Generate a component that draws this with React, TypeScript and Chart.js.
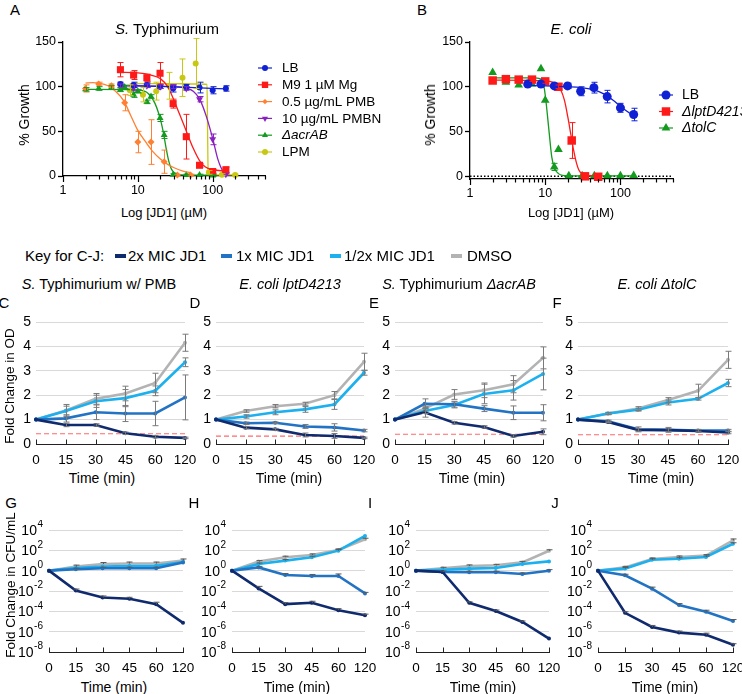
import React, { useEffect, useRef } from 'react';
import { Chart, registerables } from 'chart.js';

Chart.register(...registerables);

const FONT = '"Liberation Sans", Arial, Helvetica, sans-serif';
Chart.defaults.font.family = FONT;
Chart.defaults.color = '#000';

// ================= Panel A : S. Typhimurium dose response =================
const A_LB_X = [5.85, 8.78, 13.2, 19.8, 29.6, 44.4, 66.7, 100, 150];
const A_LB_Y = [103, 102, 102, 100, 98, 99.5, 99, 96, 98];
const A_LB_E = [2, 3, 3, 2, 4, 3, 6, 4, 3];
const A_LB_FIT_X = [5.85, 40, 150];
const A_LB_FIT_Y = [101.5, 99.5, 97.5];

const A_M9_X = [5.85, 8.78, 13.2, 19.8, 29.6, 44.4, 66.7, 100, 150];
const A_M9_Y = [119, 113, 110, 115, 81, 44, 12, 5, 7];
const A_M9_E = [8, 5, 4, 12, 5, 25, 2, 2, 3];
const A_M9_FIT_X = [5.85, 10, 15, 20, 25, 30, 35, 40, 45, 55, 67, 80, 100, 150];
const A_M9_FIT_Y = [116, 115.5, 113, 109, 100, 86, 72, 60, 49, 31, 17, 10, 7, 5.5];

const A_PMB_X = [2, 3, 4.44, 6.67, 10, 15, 22.5, 33.75, 50.6];
const A_PMB_Y = [98, 103, 101, 82, 38, 38, 16, 1, 1];
const A_PMB_E = [4, 2, 2, 9, 12, 25, 13, 1, 1];
const A_PMB_FIT_X = [2, 2.5, 3, 4, 5, 6.5, 8, 10, 13, 16, 20, 25, 30, 40, 50];
const A_PMB_FIT_Y = [104, 104.5, 104, 101, 95, 84, 68, 51, 37, 27, 19, 13, 9.5, 5.5, 4];

const A_PMBN_X = [5.85, 8.78, 13.2, 19.8, 29.6, 44.4, 66.7, 100, 150];
const A_PMBN_Y = [101, 99, 101, 100, 100, 98, 86, 41, 2];
const A_PMBN_E = [2, 3, 2, 2, 2, 2, 3, 6, 1];
const A_PMBN_FIT_X = [5.85, 20, 40, 55, 67, 82, 100, 118, 138, 150];
const A_PMBN_FIT_Y = [101, 100.5, 99, 95, 86, 67, 42, 18, 5, 3];

const A_ACR_X = [2, 3, 4.44, 5.85, 6.67, 8.78, 10, 13.2, 15, 19.8, 22.5, 29.6, 44.4, 66.7, 100];
const A_ACR_Y = [97, 98, 99, 96.5, 99.5, 91, 95, 83, 89, 65, 46, 1.5, 1, 1, 0.5];
const A_ACR_E = [2, 2, 2, 2, 2, 3, 2, 2, 2, 4, 4, 1, 1, 1, 1];
const A_ACR_FIT_X = [2, 8, 11, 13, 15, 17, 19, 20.5, 22, 24, 26, 28, 31, 35, 45, 100];
const A_ACR_FIT_Y = [97, 96.8, 96, 94, 89, 81, 70, 60, 48, 30, 16, 8, 3.5, 1.5, 1, 1];

const A_LPM_X = [7.8, 11.7, 17.6, 26.3, 39.5, 59.3, 88.9, 133, 200];
const A_LPM_Y = [96, 91, 95, 101, 110, 126, 4, 1.5, 1];
const A_LPM_E = [6, 8, 10, 15, 21, 28, 2, 1, 1];
const A_LPM_FIT_X = [7.8, 30, 60, 84, 85.5, 87, 90, 110, 200];
const A_LPM_FIT_Y = [103.5, 103.5, 103, 102.5, 50, 4, 1.5, 1.2, 1.2];

const A_LABELS = ['LB', 'M9 1 µM Mg', '0.5 µg/mL PMB', '10 µg/mL PMBN', 'ΔacrAB', 'LPM'];

// ================= Panel B : E. coli dose response =================
const B_LB_X = [5.85, 8.78, 13.2, 19.8, 29.6, 44.4, 66.7, 100, 150];
const B_LB_Y = [103, 103, 101, 101, 95, 99, 89, 76.5, 69];
const B_LB_E = [2, 2, 2, 3, 5, 6, 7, 5, 7];
const B_LB_FIT_X = [5.85, 10, 20, 30, 45, 60, 80, 100, 125, 150];
const B_LB_FIT_Y = [101.5, 101, 100, 99, 96.5, 92, 85, 78, 72, 67.5];

const B_LPT_X = [2, 3, 4.44, 6.67, 10, 15, 22.5, 33.75, 50.6];
const B_LPT_Y = [107, 108.5, 108, 108, 106, 100, 40, 0, -0.5];
const B_LPT_E = [2, 2, 2, 2, 2, 2, 20, 1, 1];
const B_LPT_FIT_X = [2, 10, 14, 16, 18, 20, 22, 24, 26, 28, 31, 35, 50.6];
const B_LPT_FIT_Y = [107.5, 106.5, 103, 97, 85, 66, 46, 28, 15, 7, 2.5, 1, 0.5];

const B_TOL_X = [2, 3, 4.44, 6.67, 8.78, 10, 13.2, 15, 20.6, 31, 45, 67, 100, 150];
const B_TOL_Y = [116, 105, 102, 103, 120, 85, 10.5, 30, 0.5, 0.5, 0.5, 0.5, 0.5, 0.8];
const B_TOL_E = [0, 0, 0, 0, 0, 0, 4, 0, 0, 0, 0, 0, 0, 0];
const B_TOL_FIT_X = [2, 7, 8.5, 9.5, 10.1, 11.1, 12.2, 13.3, 15, 17, 25, 150];
const B_TOL_FIT_Y = [110, 110, 109, 103, 88, 55, 22, 9, 3, 1, 0.5, 0.5];

const B_ZERO_X = [1, 500];
const B_ZERO_Y = [0, 0];

const B_LABELS = ['LB', 'ΔlptD4213', 'ΔtolC'];

// ================= Axis ticks =================
const LOG_X_TICKS = [1, 2, 3, 4, 5, 6, 7, 8, 9, 10, 20, 30, 40, 50, 60, 70, 80, 90, 100, 200, 300, 400, 500];
const LOG_X_LABELLED = [1, 10, 100];
const GROWTH_TICKS = [0, 50, 100, 150];
const TIME_LABELS = ['0', '15', '30', '45', '60', '120'];
const CFU_TICKS = [1e-8, 1e-6, 1e-4, 1e-2, 1, 1e2, 1e4];
const CFU_TICK_BASE = '10';
const CFU_TICK_EXP = ['-8', '-6', '-4', '-2', '0', '2', '4'];

// ================= Panels C-F : fold change in OD =================
const C_2X = [1, 0.78, 0.78, 0.44, 0.3, 0.25];
const C_2X_E = [0, 0.07, 0.05, 0.05, 0.05, 0.03];
const C_1X = [1, 1.05, 1.3, 1.25, 1.25, 1.91];
const C_1X_E = [0, 0.15, 0.3, 0.33, 0.5, 0.92];
const C_HALF = [1, 1.35, 1.75, 1.88, 2.18, 3.35];
const C_HALF_E = [0, 0.2, 0.25, 0.35, 0.2, 0.18];
const C_DMSO = [1, 1.37, 1.85, 2.07, 2.5, 4.15];
const C_DMSO_E = [0, 0.25, 0.22, 0.3, 0.4, 0.35];
const C_LIMIT = 0.42;

const D_2X = [1, 0.67, 0.6, 0.37, 0.33, 0.25];
const D_2X_E = [0, 0.05, 0.04, 0.08, 0.1, 0.03];
const D_1X = [1, 0.85, 0.87, 0.72, 0.68, 0.55];
const D_1X_E = [0, 0.05, 0.03, 0.08, 0.15, 0.05];
const D_HALF = [1, 1.13, 1.3, 1.42, 1.62, 2.92];
const D_HALF_E = [0, 0.07, 0.1, 0.12, 0.2, 0.1];
const D_DMSO = [1, 1.35, 1.55, 1.65, 2.0, 3.37];
const D_DMSO_E = [0, 0.05, 0.07, 0.06, 0.15, 0.35];
const D_LIMIT = 0.32;

const E_2X = [1, 1.3, 0.87, 0.7, 0.33, 0.5];
const E_2X_E = [0, 0.2, 0.05, 0.05, 0.05, 0.12];
const E_1X = [1, 1.65, 1.63, 1.45, 1.28, 1.28];
const E_1X_E = [0, 0.2, 0.12, 0.12, 0.28, 0.33];
const E_HALF = [1, 1.35, 1.6, 2.05, 2.2, 2.87];
const E_HALF_E = [0, 0.1, 0.12, 0.4, 0.4, 0.65];
const E_DMSO = [1, 1.45, 2.03, 2.2, 2.45, 3.53];
const E_DMSO_E = [0, 0.1, 0.2, 0.3, 0.35, 0.45];
const E_LIMIT = 0.4;

const F_2X = [1, 0.9, 0.58, 0.57, 0.53, 0.47];
const F_2X_E = [0, 0.03, 0.05, 0.05, 0.05, 0.05];
const F_1X = [1, 0.93, 0.6, 0.58, 0.55, 0.55];
const F_1X_E = [0, 0.05, 0.1, 0.1, 0.05, 0.05];
const F_HALF = [1, 1.25, 1.4, 1.7, 1.85, 2.5];
const F_HALF_E = [0, 0.05, 0.05, 0.1, 0.05, 0.15];
const F_DMSO = [1, 1.25, 1.45, 1.8, 2.18, 3.45];
const F_DMSO_E = [0, 0.04, 0.08, 0.1, 0.27, 0.35];
const F_LIMIT = 0.38;

// ================= Panels G-J : fold change in CFU/mL (errors in log decades) =================
const G_2X = [1, 1.1e-2, 2.3e-3, 1.7e-3, 5e-4, 7.4e-6];
const G_2X_E = [0, 0.15, 0.15, 0.15, 0.2, 0];
const G_1X = [1, 1.4, 1.7, 1.7, 1.7, 6.5];
const G_1X_E = [0, 0.1, 0.1, 0.1, 0.1, 0];
const G_HALF = [1, 1.8, 2.5, 2.8, 3, 7];
const G_HALF_E = [0, 0, 0, 0, 0, 0];
const G_DMSO = [1, 2.5, 4.5, 5, 5, 10];
const G_DMSO_E = [0, 0.15, 0.15, 0.15, 0.15, 0.15];

const H_2X = [1, 0.018, 5.1e-4, 6.9e-4, 1.3e-4, 4.2e-5];
const H_2X_E = [0, 0.2, 0.15, 0.15, 0.15, 0.1];
const H_1X = [1, 2.1, 0.37, 0.3, 0.3, 5.8e-3];
const H_1X_E = [0, 0.1, 0.15, 0.15, 0.2, 0.1];
const H_HALF = [1, 4.5, 9.8, 21, 93, 2600];
const H_HALF_E = [0, 0.1, 0.1, 0.1, 0.1, 0];
const H_DMSO = [1, 7.8, 21, 35, 110, 1230];
const H_DMSO_E = [0, 0.1, 0.1, 0.1, 0.1, 0.1];

const I_2X = [1, 0.74, 6.9e-4, 1.07e-4, 8.9e-6, 2.1e-7];
const I_2X_E = [0, 0, 0.1, 0.1, 0.1, 0];
const I_1X = [1, 0.74, 0.69, 0.69, 0.47, 1];
const I_1X_E = [0, 0.1, 0.1, 0.1, 0.1, 0.1];
const I_HALF = [1, 1.2, 1.6, 1.8, 4.5, 8.2];
const I_HALF_E = [0, 0, 0, 0, 0, 0];
const I_DMSO = [1, 1.7, 2.9, 3.3, 6.5, 90];
const I_DMSO_E = [0, 0.1, 0.1, 0.1, 0.1, 0.1];

const J_2X = [1, 7.2e-5, 2.9e-6, 8.1e-7, 5e-7, 5.2e-8];
const J_2X_E = [0, 0.1, 0.15, 0.15, 0.15, 0.1];
const J_1X = [1, 0.35, 0.017, 4.1e-4, 9.1e-5, 1.1e-5];
const J_1X_E = [0, 0.1, 0.15, 0.15, 0.15, 0.15];
const J_HALF = [1, 1.6, 11.7, 15, 22, 440];
const J_HALF_E = [0, 0.1, 0.1, 0.1, 0.1, 0.1];
const J_DMSO = [1, 2.1, 14, 22, 30, 930];
const J_DMSO_E = [0, 0.1, 0.1, 0.1, 0.1, 0.15];

// ================= Colours / key =================
const NAVY = '#102a6e';
const MID = '#2273c4';
const LIGHT = '#1cb0ee';
const GRAY = '#b3b3b3';
const KEY_LABELS = ['2x MIC JD1', '1x MIC JD1', '1/2x MIC JD1', 'DMSO'];
const KEY_COLORS = [NAVY, MID, LIGHT, GRAY];

const COL_LB = '#1020d4';
const COL_RED = '#ff1a1a';
const COL_ORANGE = '#ff8030';
const COL_PURPLE = '#8a20c0';
const COL_GREEN = '#139a1f';
const COL_YELLOW = '#c8c814';

// ================= helpers =================
type Area = { l: number; t: number; r: number; b: number };
type Geom = { x: number; y: number; w: number; h: number; yW: number; xH: number; pt: number; pr: number };

function geom(a: Area, yW: number, xH: number, pt: number, pr: number): Geom {
  return { x: a.l - yW, y: a.t - pt, w: a.r - a.l + yW + pr, h: a.b - a.t + pt + xH, yW, xH, pt, pr };
}
const fixY = (w: number) => (s: any) => {
  s.width = w; s.paddingTop = 0; s.paddingBottom = 0; s.paddingLeft = 0; s.paddingRight = 0;
};
const fixX = (h: number) => (s: any) => {
  s.height = h; s.paddingLeft = 0; s.paddingRight = 0; s.paddingTop = 0; s.paddingBottom = 0;
};
const pts = (xs: number[], ys: number[]) => xs.map((x, i) => ({ x, y: ys[i] }));

const errorBars = {
  id: 'errorBars',
  afterDatasetsDraw(chart: any) {
    const { ctx, chartArea } = chart;
    chart.data.datasets.forEach((ds: any, i: number) => {
      if (!ds.err) return;
      const meta = chart.getDatasetMeta(i);
      const ys = chart.scales[meta.yAxisID];
      ctx.save();
      ctx.beginPath();
      ctx.rect(chartArea.left - 10, chartArea.top - 4, chartArea.right - chartArea.left + 20, chartArea.bottom - chartArea.top + 8);
      ctx.clip();
      ctx.strokeStyle = ds.errColor || ds.borderColor;
      ctx.lineWidth = ds.errWidth || 1;
      const cap = ds.errCap ?? 3;
      meta.data.forEach((el: any, j: number) => {
        const e = ds.err[j];
        if (!e) return;
        const raw = ds.data[j];
        const v = typeof raw === 'number' ? raw : raw.y;
        let hi: number, lo: number;
        if (ds.errLog) { hi = v * Math.pow(10, e); lo = ds.errUpOnly ? v : v / Math.pow(10, e); }
        else { hi = v + e; lo = ds.errUpOnly ? v : v - e; }
        const x = Math.round(el.x) + 0.5;
        const yh = ys.getPixelForValue(hi);
        const yl = ys.getPixelForValue(lo);
        ctx.beginPath();
        ctx.moveTo(x, yh); ctx.lineTo(x, yl);
        ctx.moveTo(x - cap, yh); ctx.lineTo(x + cap, yh);
        if (!ds.errUpOnly) { ctx.moveTo(x - cap, yl); ctx.lineTo(x + cap, yl); }
        ctx.stroke();
      });
      ctx.restore();
    });
  },
};
Chart.register(errorBars);

const logTickMarks = {
  id: 'logTickMarks',
  afterDraw(chart: any) {
    const s = chart.scales.x;
    const ctx = chart.ctx;
    const b = chart.chartArea.bottom;
    ctx.save();
    ctx.strokeStyle = '#000';
    ctx.lineWidth = 1.2;
    s.ticks.forEach((t: any) => {
      const lg = Math.log10(t.value);
      const major = Math.abs(lg - Math.round(lg)) < 1e-9;
      const x = Math.round(s.getPixelForValue(t.value)) + 0.5;
      ctx.beginPath();
      ctx.moveTo(x, b);
      ctx.lineTo(x, b + (major ? 6 : 3.5));
      ctx.stroke();
    });
    ctx.restore();
  },
};

const upTicks = {
  id: 'upTicks',
  afterDraw(chart: any) {
    const s = chart.scales.x;
    const ctx = chart.ctx;
    const b = chart.chartArea.bottom;
    ctx.save();
    ctx.strokeStyle = '#222';
    ctx.lineWidth = 1;
    for (let i = 0; i < s.ticks.length; i++) {
      const x = Math.round(s.getPixelForTick(i)) + 0.5;
      ctx.beginPath();
      ctx.moveTo(x, b);
      ctx.lineTo(x, b - 4.5);
      ctx.stroke();
    }
    ctx.restore();
  },
};

// power-of-ten labels for the CFU axes: "10" with a raised exponent
const powerLabels = {
  id: 'powerLabels',
  afterDraw(chart: any) {
    const s = chart.scales.y;
    const ctx = chart.ctx;
    const right = chart.chartArea.left - 6;
    ctx.save();
    ctx.fillStyle = '#000';
    ctx.textBaseline = 'middle';
    s.ticks.forEach((t: any, i: number) => {
      const y = s.getPixelForValue(t.value);
      ctx.font = `10px ${FONT}`;
      const ew = ctx.measureText(CFU_TICK_EXP[i]).width;
      ctx.textAlign = 'left';
      ctx.fillText(CFU_TICK_EXP[i], right - ew, y - 5.5);
      ctx.font = `14px ${FONT}`;
      ctx.textAlign = 'right';
      ctx.fillText(CFU_TICK_BASE, right - ew - 0.5, y + 1);
    });
    ctx.restore();
  },
};

function drawMarker(ctx: any, style: string, x: number, y: number, r: number, rot: number) {
  ctx.beginPath();
  if (style === 'circle') ctx.arc(x, y, r, 0, Math.PI * 2);
  else if (style === 'rect') { const s = r * Math.SQRT1_2; ctx.rect(x - s, y - s, 2 * s, 2 * s); }
  else if (style === 'rectRot') { const s = r * 0.9; ctx.moveTo(x, y - s); ctx.lineTo(x + s, y); ctx.lineTo(x, y + s); ctx.lineTo(x - s, y); ctx.closePath(); }
  else {
    let a = (rot * Math.PI) / 180;
    for (let k = 0; k < 3; k++) {
      const px = x + Math.sin(a) * r; const py = y - Math.cos(a) * r;
      if (k) ctx.lineTo(px, py); else ctx.moveTo(px, py);
      a += (2 * Math.PI) / 3;
    }
    ctx.closePath();
  }
  ctx.fill();
}

function legendPlugin(items: any[], o: any) {
  return {
    id: 'customLegend',
    afterDraw(chart: any) {
      const ctx = chart.ctx;
      ctx.save();
      items.forEach((it, k) => {
        const y = o.y0 + k * o.dy;
        ctx.strokeStyle = it.color;
        ctx.lineWidth = 1.2;
        ctx.beginPath(); ctx.moveTo(o.x - o.half, y); ctx.lineTo(o.x + o.half, y); ctx.stroke();
        ctx.fillStyle = it.color;
        drawMarker(ctx, it.style, o.x, y, it.lr, it.rot || 0);
        ctx.fillStyle = '#000';
        ctx.font = `${it.italic ? 'italic ' : ''}${o.size}px ${FONT}`;
        ctx.textBaseline = 'middle';
        ctx.textAlign = 'left';
        ctx.fillText(it.label, o.tx, y + 0.5);
      });
      ctx.restore();
    },
  };
}

const baseOpts = (g: Geom) => ({
  responsive: false,
  animation: false,
  events: [],
  layout: { padding: { left: 0, top: g.pt, right: g.pr, bottom: 0 } },
  plugins: { legend: { display: false }, tooltip: { enabled: false }, title: { display: false } },
});

type Dose = { label: string; italic?: boolean; color: string; style: string; rot?: number; r: number; lr: number; x: number[]; y: number[]; e: number[]; fx: number[]; fy: number[] };

function doseChart(g: Geom, series: Dose[], yMin: number, zero: boolean, leg: any) {
  const datasets: any[] = [];
  series.forEach((s) => {
    datasets.push({ data: pts(s.x, s.y), showLine: false, pointStyle: s.style, pointRotation: s.rot || 0, pointRadius: s.r, pointBackgroundColor: s.color, pointBorderColor: s.color, pointBorderWidth: 0, err: s.e, errColor: s.color, errCap: 3, clip: false });
    datasets.push({ data: pts(s.fx, s.fy), showLine: true, borderColor: s.color, borderWidth: 1.3, pointRadius: 0, cubicInterpolationMode: 'monotone', fill: false, clip: false });
  });
  if (zero) datasets.push({ data: pts(B_ZERO_X, B_ZERO_Y), showLine: true, borderColor: '#000', borderWidth: 1.4, borderDash: [1.5, 2], pointRadius: 0, clip: false });
  return {
    type: 'scatter',
    data: { datasets },
    options: {
      ...baseOpts(g),
      scales: {
        x: {
          type: 'logarithmic', min: 1, max: 500,
          afterBuildTicks: (s: any) => { s.ticks = LOG_X_TICKS.map((v) => ({ value: v })); },
          ticks: { autoSkip: false, maxRotation: 0, padding: 7, font: { size: 12.5 }, callback: (v: number) => (LOG_X_LABELLED.includes(v) ? String(v) : '') },
          grid: { display: true, drawOnChartArea: false, drawTicks: false },
          border: { display: true, color: '#000', width: 1.3 },
          afterFit: fixX(g.xH),
        },
        y: {
          type: 'linear', min: yMin, max: 150,
          afterBuildTicks: (s: any) => { s.ticks = GROWTH_TICKS.map((v) => ({ value: v })); },
          ticks: { padding: 2, font: { size: 12.5 } },
          grid: { drawOnChartArea: false, drawTicks: true, tickLength: 5, tickColor: '#000', tickWidth: 1.3 },
          border: { display: true, color: '#000', width: 1.3 },
          afterFit: fixY(g.yW),
        },
      },
    },
    plugins: [logTickMarks, legendPlugin(series, leg)],
  };
}

const lineDs = (data: number[], err: number[], color: string, log: boolean) => ({
  data, err, errLog: log, errUpOnly: log, errColor: log ? '#5a5a5a' : '#7a7a7a', errCap: 3,
  borderColor: color, backgroundColor: color, pointBackgroundColor: color, pointBorderColor: color,
  borderWidth: 2.6, pointRadius: 2, pointBorderWidth: 0, tension: 0, clip: false,
});

function timeX(g: Geom) {
  return {
    type: 'category', offset: false,
    ticks: { padding: 8, font: { size: 13.5 }, autoSkip: false, maxRotation: 0 },
    grid: { drawOnChartArea: false, drawTicks: false },
    border: { display: true, color: '#222', width: 1 },
    afterFit: fixX(g.xH),
  };
}

function odChart(g: Geom, d: any) {
  return {
    type: 'line',
    data: {
      labels: TIME_LABELS,
      datasets: [
        lineDs(d.s2, d.e2, NAVY, false),
        lineDs(d.s1, d.e1, MID, false),
        lineDs(d.sh, d.eh, LIGHT, false),
        lineDs(d.sd, d.ed, GRAY, false),
        { data: TIME_LABELS.map(() => d.lim), borderColor: '#ff6a6a', borderDash: [5, 3], borderWidth: 1.2, pointRadius: 0, clip: false },
      ],
    },
    options: {
      ...baseOpts(g),
      scales: {
        x: timeX(g),
        y: {
          min: 0, max: 5,
          ticks: { stepSize: 1, padding: 5, font: { size: 14 } },
          grid: { color: '#d9d9d9', drawTicks: false, lineWidth: 1 },
          border: { display: false },
          afterFit: fixY(g.yW),
        },
      },
    },
    plugins: [upTicks],
  };
}

function cfuChart(g: Geom, d: any) {
  return {
    type: 'line',
    data: {
      labels: TIME_LABELS,
      datasets: [
        lineDs(d.s2, d.e2, NAVY, true),
        lineDs(d.s1, d.e1, MID, true),
        lineDs(d.sh, d.eh, LIGHT, true),
        lineDs(d.sd, d.ed, GRAY, true),
      ],
    },
    options: {
      ...baseOpts(g),
      scales: {
        x: timeX(g),
        y: {
          type: 'logarithmic', min: 1e-8, max: 1e4,
          afterBuildTicks: (s: any) => { s.ticks = CFU_TICKS.map((v) => ({ value: v })); },
          ticks: { display: false, autoSkip: false },
          grid: { color: '#d9d9d9', drawTicks: false, lineWidth: 1 },
          border: { display: false },
          afterFit: fixY(g.yW),
        },
      },
    },
    plugins: [upTicks, powerLabels],
  };
}

// ================= geometry =================
const GA = geom({ l: 63, t: 42, r: 265, b: 176 }, 63, 24, 12, 175);
const GB = geom({ l: 470, t: 42, r: 673, b: 179 }, 45, 24, 12, 69);
const OD_T = 322, OD_B = 444, CFU_T = 530, CFU_B = 652;
const GC = geom({ l: 36, t: OD_T, r: 185, b: OD_B }, 24, 26, 8, 14);
const GD = geom({ l: 216, t: OD_T, r: 364, b: OD_B }, 24, 26, 8, 14);
const GE = geom({ l: 395, t: OD_T, r: 543, b: OD_B }, 24, 26, 8, 14);
const GF = geom({ l: 578, t: OD_T, r: 728, b: OD_B }, 24, 26, 8, 14);
const GG = geom({ l: 49, t: CFU_T, r: 183, b: CFU_B }, 42, 26, 10, 14);
const GH = geom({ l: 232, t: CFU_T, r: 365, b: CFU_B }, 42, 26, 10, 14);
const GI = geom({ l: 416, t: CFU_T, r: 549, b: CFU_B }, 42, 26, 10, 14);
const GJ = geom({ l: 598, t: CFU_T, r: 733, b: CFU_B }, 42, 26, 10, 14);

const A_SERIES: Dose[] = [
  { label: A_LABELS[0], color: COL_LB, style: 'circle', r: 3, lr: 3, x: A_LB_X, y: A_LB_Y, e: A_LB_E, fx: A_LB_FIT_X, fy: A_LB_FIT_Y },
  { label: A_LABELS[1], color: COL_RED, style: 'rect', r: 5, lr: 4.5, x: A_M9_X, y: A_M9_Y, e: A_M9_E, fx: A_M9_FIT_X, fy: A_M9_FIT_Y },
  { label: A_LABELS[2], color: COL_ORANGE, style: 'rectRot', r: 3.5, lr: 3, x: A_PMB_X, y: A_PMB_Y, e: A_PMB_E, fx: A_PMB_FIT_X, fy: A_PMB_FIT_Y },
  { label: A_LABELS[3], color: COL_PURPLE, style: 'triangle', rot: 180, r: 4, lr: 3.5, x: A_PMBN_X, y: A_PMBN_Y, e: A_PMBN_E, fx: A_PMBN_FIT_X, fy: A_PMBN_FIT_Y },
  { label: A_LABELS[4], italic: true, color: COL_GREEN, style: 'triangle', r: 4, lr: 3.5, x: A_ACR_X, y: A_ACR_Y, e: A_ACR_E, fx: A_ACR_FIT_X, fy: A_ACR_FIT_Y },
  { label: A_LABELS[5], color: COL_YELLOW, style: 'circle', r: 3, lr: 3, x: A_LPM_X, y: A_LPM_Y, e: A_LPM_E, fx: A_LPM_FIT_X, fy: A_LPM_FIT_Y },
];
const B_SERIES: Dose[] = [
  { label: B_LABELS[0], color: COL_LB, style: 'circle', r: 4.5, lr: 4.5, x: B_LB_X, y: B_LB_Y, e: B_LB_E, fx: B_LB_FIT_X, fy: B_LB_FIT_Y },
  { label: B_LABELS[1], italic: true, color: COL_RED, style: 'rect', r: 6, lr: 6, x: B_LPT_X, y: B_LPT_Y, e: B_LPT_E, fx: B_LPT_FIT_X, fy: B_LPT_FIT_Y },
  { label: B_LABELS[2], italic: true, color: COL_GREEN, style: 'triangle', r: 5, lr: 5, x: B_TOL_X, y: B_TOL_Y, e: B_TOL_E, fx: B_TOL_FIT_X, fy: B_TOL_FIT_Y },
];

const CHARTS: { g: Geom; cfg: () => any }[] = [
  { g: GA, cfg: () => doseChart(GA, A_SERIES, 0, false, { x: 265 - GA.x, half: 7, tx: 282 - GA.x, y0: 68 - GA.y, dy: 16.8, size: 13.5 }) },
  { g: GB, cfg: () => doseChart(GB, B_SERIES, -3, true, { x: 666 - GB.x, half: 7, tx: 682 - GB.x, y0: 95 - GB.y, dy: 16.5, size: 14 }) },
  { g: GC, cfg: () => odChart(GC, { s2: C_2X, e2: C_2X_E, s1: C_1X, e1: C_1X_E, sh: C_HALF, eh: C_HALF_E, sd: C_DMSO, ed: C_DMSO_E, lim: C_LIMIT }) },
  { g: GD, cfg: () => odChart(GD, { s2: D_2X, e2: D_2X_E, s1: D_1X, e1: D_1X_E, sh: D_HALF, eh: D_HALF_E, sd: D_DMSO, ed: D_DMSO_E, lim: D_LIMIT }) },
  { g: GE, cfg: () => odChart(GE, { s2: E_2X, e2: E_2X_E, s1: E_1X, e1: E_1X_E, sh: E_HALF, eh: E_HALF_E, sd: E_DMSO, ed: E_DMSO_E, lim: E_LIMIT }) },
  { g: GF, cfg: () => odChart(GF, { s2: F_2X, e2: F_2X_E, s1: F_1X, e1: F_1X_E, sh: F_HALF, eh: F_HALF_E, sd: F_DMSO, ed: F_DMSO_E, lim: F_LIMIT }) },
  { g: GG, cfg: () => cfuChart(GG, { s2: G_2X, e2: G_2X_E, s1: G_1X, e1: G_1X_E, sh: G_HALF, eh: G_HALF_E, sd: G_DMSO, ed: G_DMSO_E }) },
  { g: GH, cfg: () => cfuChart(GH, { s2: H_2X, e2: H_2X_E, s1: H_1X, e1: H_1X_E, sh: H_HALF, eh: H_HALF_E, sd: H_DMSO, ed: H_DMSO_E }) },
  { g: GI, cfg: () => cfuChart(GI, { s2: I_2X, e2: I_2X_E, s1: I_1X, e1: I_1X_E, sh: I_HALF, eh: I_HALF_E, sd: I_DMSO, ed: I_DMSO_E }) },
  { g: GJ, cfg: () => cfuChart(GJ, { s2: J_2X, e2: J_2X_E, s1: J_1X, e1: J_1X_E, sh: J_HALF, eh: J_HALF_E, sd: J_DMSO, ed: J_DMSO_E }) },
];

function ChartCanvas({ g, cfg }: { g: Geom; cfg: () => any }) {
  const ref = useRef<HTMLCanvasElement>(null);
  useEffect(() => {
    const chart = new Chart(ref.current as HTMLCanvasElement, cfg());
    return () => chart.destroy();
  }, []);
  return (
    <canvas ref={ref} width={g.w} height={g.h}
      style={{ position: 'absolute', left: g.x, top: g.y, width: g.w, height: g.h }} />
  );
}

function Txt({ x, y, size = 14, rot = false, align = 'center', italic = false, children }: any) {
  const tx = align === 'left' ? '0' : '-50%';
  return (
    <div style={{
      position: 'absolute', left: x, top: y,
      transform: `translate(${tx}, -50%)${rot ? ' rotate(-90deg)' : ''}`,
      fontSize: size, fontStyle: italic ? 'italic' : 'normal',
      whiteSpace: 'nowrap', lineHeight: 1, color: '#000',
    }}>{children}</div>
  );
}

const KEY_LINE_X = [115, 221, 330, 451];
const KEY_TEXT_X = [128, 236, 344, 467];

export default function App() {
  return (
    <div style={{ position: 'absolute', left: 0, top: 0, width: 742, height: 694, overflow: 'hidden', background: '#fff', fontFamily: FONT }}>
      {CHARTS.map((c, i) => <ChartCanvas key={i} g={c.g} cfg={c.cfg} />)}

      {/* Panel letters */}
      <Txt x={15} y={9} size={15}>A</Txt>
      <Txt x={422} y={9} size={15}>B</Txt>
      <Txt x={4} y={302} size={15}>C</Txt>
      <Txt x={195} y={302} size={15}>D</Txt>
      <Txt x={374} y={302} size={15}>E</Txt>
      <Txt x={557} y={302} size={15}>F</Txt>
      <Txt x={11} y={502} size={15}>G</Txt>
      <Txt x={194} y={502} size={15}>H</Txt>
      <Txt x={370} y={502} size={15}>I</Txt>
      <Txt x={555} y={502} size={15}>J</Txt>

      {/* Panel A / B titles and axis titles */}
      <Txt x={167} y={28} size={15}><i>S.</i> Typhimurium</Txt>
      <Txt x={571} y={28} size={15} italic>E. coli</Txt>
      <Txt x={24} y={115} size={14} rot>% Growth</Txt>
      <Txt x={430} y={115} size={14} rot>% Growth</Txt>
      <Txt x={164} y={212} size={13}>Log [JD1] (µM)</Txt>
      <Txt x={571} y={212} size={13}>Log [JD1] (µM)</Txt>

      {/* Key */}
      <Txt x={25} y={255} size={15} align="left">Key for C-J:</Txt>
      {KEY_LABELS.map((k, i) => (
        <React.Fragment key={k}>
          <div style={{ position: 'absolute', left: KEY_LINE_X[i], top: 254, width: 11, height: 3.5, background: KEY_COLORS[i] }} />
          <Txt x={KEY_TEXT_X[i]} y={255} size={15} align="left">{k}</Txt>
        </React.Fragment>
      ))}

      {/* C-F titles */}
      <Txt x={99} y={284} size={14.5}><i>S.</i> Typhimurium w/ PMB</Txt>
      <Txt x={290} y={284} size={14.5} italic>E. coli lptD4213</Txt>
      <Txt x={459} y={284} size={14.5}><i>S.</i> Typhimurium <i>ΔacrAB</i></Txt>
      <Txt x={657} y={284} size={14.5} italic>E. coli ΔtolC</Txt>

      <Txt x={10} y={386} size={13.5} rot>Fold Change in OD</Txt>
      <Txt x={11} y={585} size={13.5} rot>Fold Change in CFU/mL</Txt>

      <Txt x={102} y={478} size={14}>Time (min)</Txt>
      <Txt x={289} y={478} size={14}>Time (min)</Txt>
      <Txt x={472} y={478} size={14}>Time (min)</Txt>
      <Txt x={661} y={478} size={14}>Time (min)</Txt>
      <Txt x={114} y={687} size={14}>Time (min)</Txt>
      <Txt x={297} y={687} size={14}>Time (min)</Txt>
      <Txt x={483} y={687} size={14}>Time (min)</Txt>
      <Txt x={665} y={687} size={14}>Time (min)</Txt>
    </div>
  );
}
